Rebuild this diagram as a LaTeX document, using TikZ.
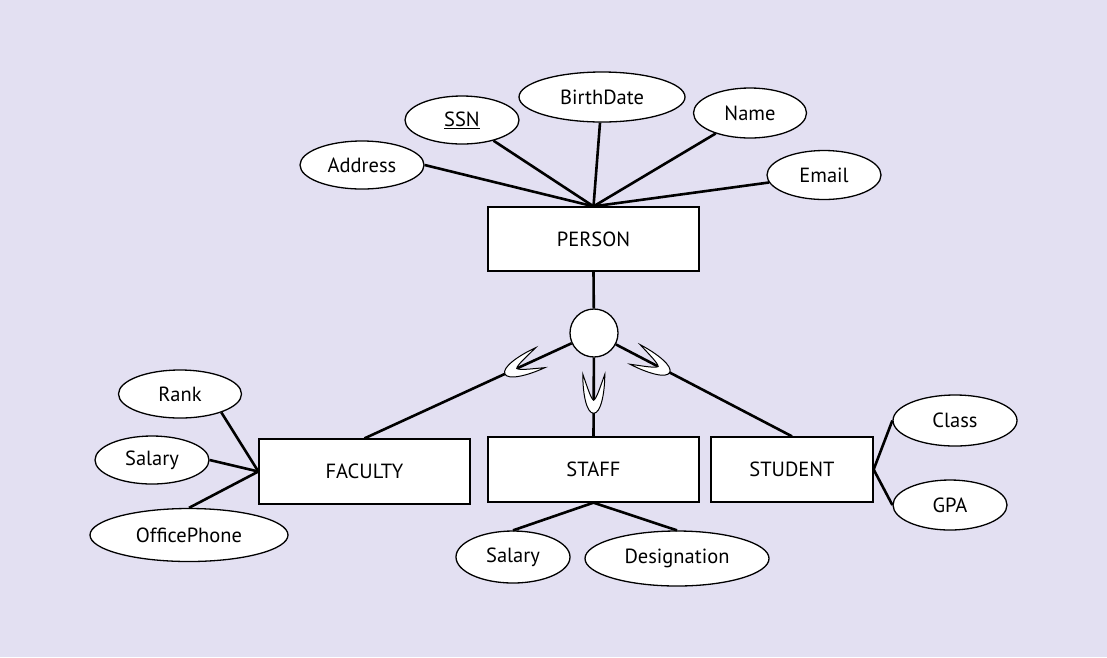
\documentclass[tikz,border=0pt]{standalone}
\usepackage{fontspec}
\setmainfont{PT Sans}
\usetikzlibrary{shapes.geometric}
\definecolor{bg}{RGB}{227,224,242}
\tikzset{
  attr/.style={ellipse, draw, fill=white, line width=1.3pt, inner sep=0pt, font=\fontsize{20.5}{22}\selectfont},
  ent/.style={rectangle, draw, fill=white, line width=1.3pt, inner sep=0pt, font=\fontsize{20.5}{22}\selectfont},
  conn/.style={line width=2.6pt},
  cup/.pic={\path[draw, fill=white, line width=1pt] (18,11) .. controls (-2,11) and (-21,7) .. (-21,0) .. controls (-21,-7) and (-2,-11) .. (18,-11) .. controls (4,-6) and (-6,-3) .. (-8,0) .. controls (-6,3) and (4,6) .. (18,11) -- cycle;}
}
\begin{document}
\begin{tikzpicture}[x=1pt,y=-1pt]
\fill[bg] (0,0) rectangle (1107,657);
\useasboundingbox (0,0) rectangle (1107,657);
% entities
\node[ent, minimum width=211pt, minimum height=64pt] (person) at (593.5,239) {PERSON};
\node[ent, minimum width=211pt, minimum height=65pt] (fac) at (364.5,471.5) {FACULTY};
\node[ent, minimum width=211pt, minimum height=65pt] (staff) at (593.5,469.5) {STAFF};
\node[ent, minimum width=162pt, minimum height=65pt] (stud) at (792,469.5) {STUDENT};
% circle
\node[circle, draw, fill=white, line width=1.3pt, minimum size=48pt, inner sep=0pt] (circ) at (594,333) {};
% person attributes
\node[attr, minimum width=124pt, minimum height=48pt] (addr) at (362,165) {Address};
\node[attr, minimum width=114pt, minimum height=48pt] (ssn) at (462,120) {\underline{SSN}};
\node[attr, minimum width=166pt, minimum height=50pt] (bdate) at (602,97) {BirthDate};
\node[attr, minimum width=113pt, minimum height=50pt] (name) at (750,113) {Name};
\node[attr, minimum width=114pt, minimum height=49pt] (email) at (824,175) {Email};
% faculty attributes
\node[attr, minimum width=123pt, minimum height=48pt] (rank) at (180,394) {Rank};
\node[attr, minimum width=114pt, minimum height=48pt] (fsal) at (152,460) {Salary};
\node[attr, minimum width=198pt, minimum height=53pt] (phone) at (189,535) {OfficePhone};
% staff attributes
\node[attr, minimum width=114pt, minimum height=52pt] (ssal) at (513,557) {Salary};
\node[attr, minimum width=184pt, minimum height=55pt] (desig) at (677,558.5) {Designation};
% student attributes
\node[attr, minimum width=124pt, minimum height=51pt] (class) at (955,420.5) {Class};
\node[attr, minimum width=114pt, minimum height=50pt] (gpa) at (950,505) {GPA};
% connectors
\draw[conn] (addr.east) -- (person.north);
\draw[conn] (ssn) -- (person.north);
\draw[conn] (bdate) -- (person.north);
\draw[conn] (name) -- (person.north);
\draw[conn] (email) -- (person.north);
\draw[conn] (person.south) -- (circ);
\draw[conn] (circ) -- (fac.north);
\draw[conn] (circ) -- (staff.north);
\draw[conn] (circ) -- (stud.north);
\draw[conn] (fac.west) -- (rank.-24);
\draw[conn] (fac.west) -- (fsal.east);
\draw[conn] (fac.west) -- (phone.north);
\draw[conn] (staff.south) -- (ssal.north);
\draw[conn] (staff.south) -- (desig.north);
\draw[conn] (stud.east) -- (class.west);
\draw[conn] (stud.east) -- (gpa.west);
% subset symbols
\path (fac.north) -- (circ) pic[pos=0.77, sloped, allow upside down] {cup};
\path (staff.north) -- (circ) pic[pos=0.56, sloped, allow upside down] {cup};
\path (stud.north) -- (circ) pic[pos=0.80, sloped, allow upside down] {cup};
\end{tikzpicture}
\end{document}
